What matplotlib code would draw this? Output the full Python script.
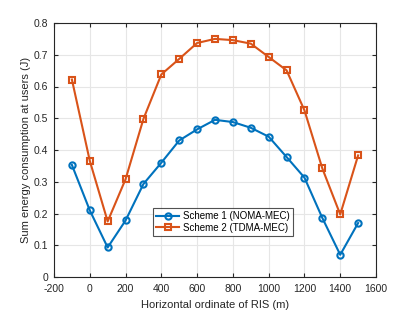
import matplotlib
matplotlib.use("Agg")
import matplotlib.pyplot as plt

x = [-100, 0, 100, 200, 300, 400, 500, 600, 700, 800, 900, 1000, 1100, 1200, 1300, 1400, 1500]
noma = [0.353, 0.210, 0.093, 0.178, 0.293, 0.360, 0.430, 0.465, 0.495, 0.488, 0.470, 0.442, 0.378, 0.313, 0.186, 0.070, 0.170]
tdma = [0.622, 0.366, 0.175, 0.308, 0.498, 0.638, 0.687, 0.737, 0.750, 0.746, 0.735, 0.693, 0.651, 0.525, 0.342, 0.197, 0.383]

plt.rcParams["font.family"] = ["Liberation Sans", "DejaVu Sans"]
plt.rcParams["font.size"] = 7.5
plt.rcParams["axes.unicode_minus"] = False

fig = plt.figure(figsize=(4.15, 3.12), dpi=100)
ax = fig.add_axes([54/415, 1-277/312, 322/415, 254/312])

ax.plot(x, noma, color="#0072BD", lw=1.5, marker="o", ms=4.5, mfc="none", mew=1.5, label="Scheme 1 (NOMA-MEC)")
ax.plot(x, tdma, color="#D95319", lw=1.5, marker="s", ms=4.5, mfc="none", mew=1.5, label="Scheme 2 (TDMA-MEC)")

ax.set_xlim(-200, 1600)
ax.set_ylim(0, 0.8)
ax.set_xticks(range(-200, 1601, 200))
ax.set_yticks([0, 0.1, 0.2, 0.3, 0.4, 0.5, 0.6, 0.7, 0.8])
ax.set_yticklabels(["0", "0.1", "0.2", "0.3", "0.4", "0.5", "0.6", "0.7", "0.8"])
ax.grid(True, color="#e6e6e6", lw=0.8)
ax.set_axisbelow(True)
ax.tick_params(direction="in", top=True, right=True, length=3, color="#262626", labelcolor="#262626")
ax.tick_params(axis="x", pad=5)
ax.tick_params(axis="y", pad=4)
for s in ax.spines.values():
    s.set_color("#262626")
    s.set_linewidth(0.8)

ax.set_xlabel("Horizontal ordinate of RIS (m)", color="#262626", fontsize=8, labelpad=4)
ax.set_ylabel("Sum energy consumption at users (J)", color="#262626", fontsize=8, labelpad=2)

leg = ax.legend(loc="center", bbox_to_anchor=(0.525, 0.217), fancybox=False, edgecolor="#262626",
                fontsize=7, borderpad=0.3, labelspacing=0.2, handlelength=2.4, handletextpad=0.4, borderaxespad=0)
leg.get_frame().set_linewidth(0.8)

fig.savefig("out.png", dpi=100)
